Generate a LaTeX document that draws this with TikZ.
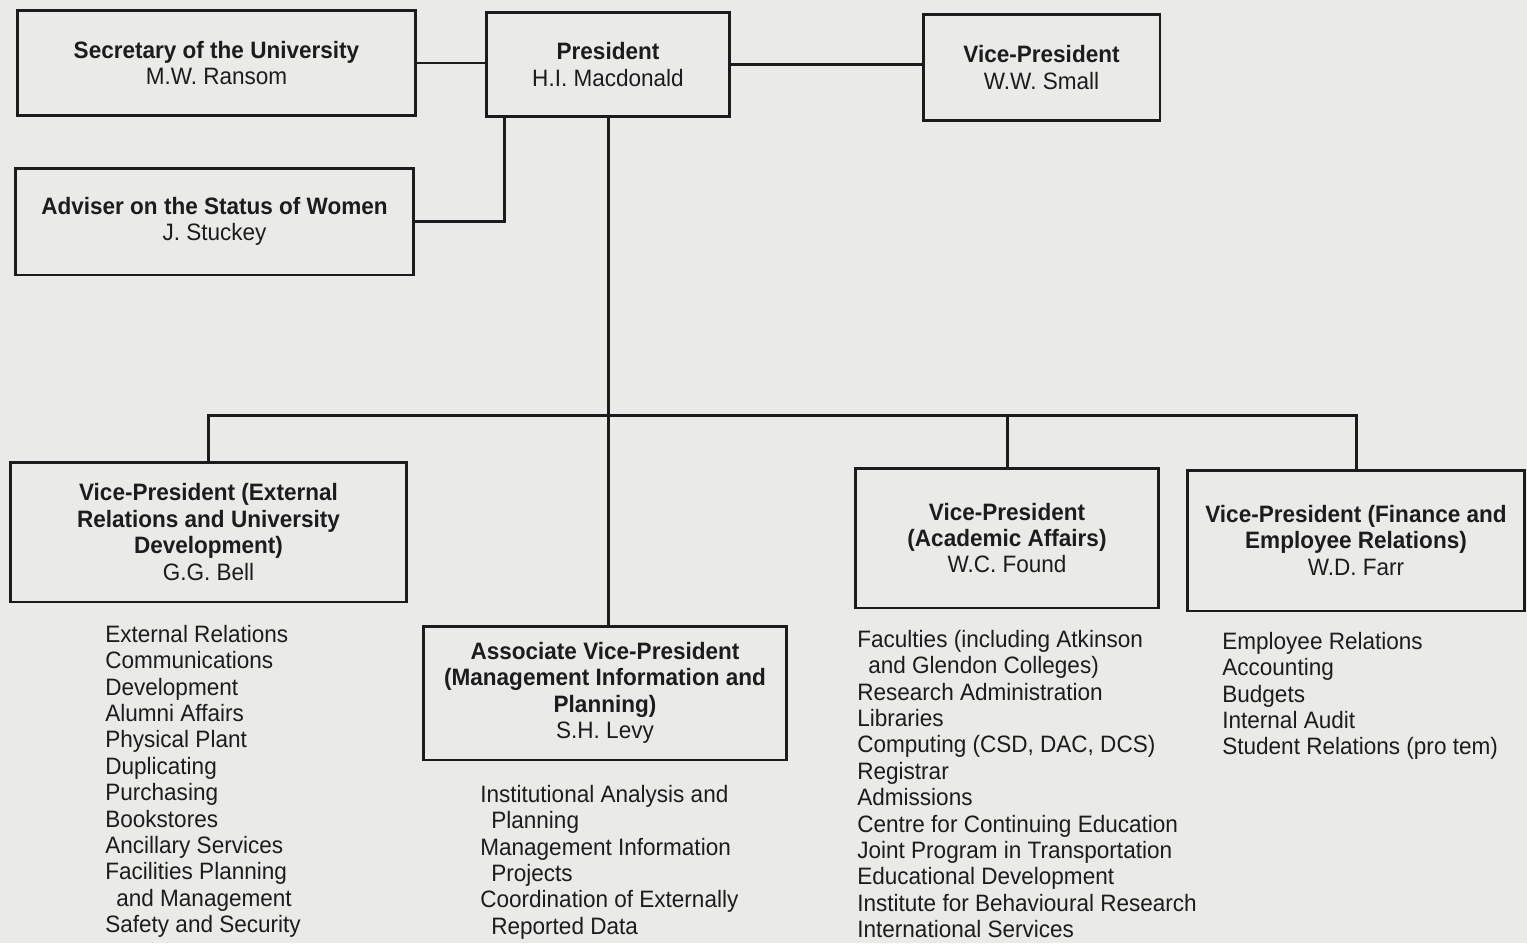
\documentclass[tikz,border=0pt]{standalone}
\usepackage{fontspec}
\setmainfont{Liberation Sans}[FakeStretch=0.95]
\usetikzlibrary{calc}
\definecolor{paper}{RGB}{234,234,232}
\definecolor{ink}{RGB}{28,28,28}
\tikzset{
  office/.style={draw=ink, line width=1.7pt, align=center, inner sep=0pt, text=ink},
  duties/.style={anchor=north west, align=left, inner sep=0pt, text=ink},
  link/.style={draw=ink, line width=1.7pt},
}
\newcommand{\ttl}[1]{\textbf{#1}}
\newcommand{\ind}{\hspace*{0.22cm}}

\begin{document}
\begin{tikzpicture}[x=0.02cm, y=-0.02cm,
    every node/.style={font=\fontsize{13.5}{15}\selectfont}]
  \fill[paper] (0,0) rectangle (1527,943);
  \useasboundingbox (0,0) rectangle (1527,943);

  % top row
  \node[office, minimum width=7.98cm, minimum height=2.12cm] (sec) at (216.5,63)
    {\ttl{Secretary of the University}\\M.W. Ransom};
  \node[office, minimum width=4.88cm, minimum height=2.10cm] (pres) at (608,64.5)
    {\ttl{President}\\H.I. Macdonald};
  \node[office, minimum width=4.74cm, minimum height=2.14cm] (vpsmall) at (1041.5,67.5)
    {\ttl{Vice-President}\\W.W. Small};
  \node[office, minimum width=7.98cm, minimum height=2.14cm] (adv) at (214.5,221.5)
    {\ttl{Adviser on the Status of Women}\\J. Stuckey};

  % vice-presidents
  \node[office, minimum width=7.94cm, minimum height=2.80cm] (vpext) at (208.5,532)
    {\ttl{Vice-President (External}\\\ttl{Relations and University}\\\ttl{Development)}\\G.G. Bell};
  \node[office, minimum width=7.28cm, minimum height=2.68cm] (assoc) at (605,693)
    {\ttl{Associate Vice-President}\\\ttl{(Management Information and}\\\ttl{Planning)}\\S.H. Levy};
  \node[office, minimum width=6.08cm, minimum height=2.80cm] (vpacad) at (1007,538)
    {\ttl{Vice-President}\\\ttl{(Academic Affairs)}\\W.C. Found};
  \node[office, minimum width=6.76cm, minimum height=2.82cm] (vpfin) at (1356,540.5)
    {\ttl{Vice-President (Finance and}\\\ttl{Employee Relations)}\\W.D. Farr};

  % connectors
  \draw[link] (sec.east) -- (sec.east -| pres.west);
  \draw[link] (pres.east) -- (pres.east -| vpsmall.west);
  \draw[link] (adv.east) -| ($(pres.south west)+(20,0)$);
  \coordinate (bus) at (608,415);
  \draw[link] (pres.south) -- (pres.south |- assoc.north);
  \draw[link] (vpext.north) |- (bus) -| (vpfin.north);
  \draw[link] (vpacad.north) -- (vpacad.north |- bus);

  % duties
  \node[duties] (extlist) at (105,625)
    {External Relations\\Communications\\Development\\Alumni Affairs\\Physical Plant\\
     Duplicating\\Purchasing\\Bookstores\\Ancillary Services\\Facilities Planning\\
     \ind and Management\\Safety and Security};
  \node[duties] (assoclist) at (480,785)
    {Institutional Analysis and\\\ind Planning\\Management Information\\\ind Projects\\
     Coordination of Externally\\\ind Reported Data};
  \node[duties] (acadlist) at (857,630)
    {Faculties (including Atkinson\\\ind and Glendon Colleges)\\Research Administration\\
     Libraries\\Computing (CSD, DAC, DCS)\\Registrar\\Admissions\\
     Centre for Continuing Education\\Joint Program in Transportation\\
     Educational Development\\Institute for Behavioural Research\\International Services};
  \node[duties] (finlist) at (1222,632)
    {Employee Relations\\Accounting\\Budgets\\Internal Audit\\Student Relations (pro tem)};
\end{tikzpicture}
\end{document}
